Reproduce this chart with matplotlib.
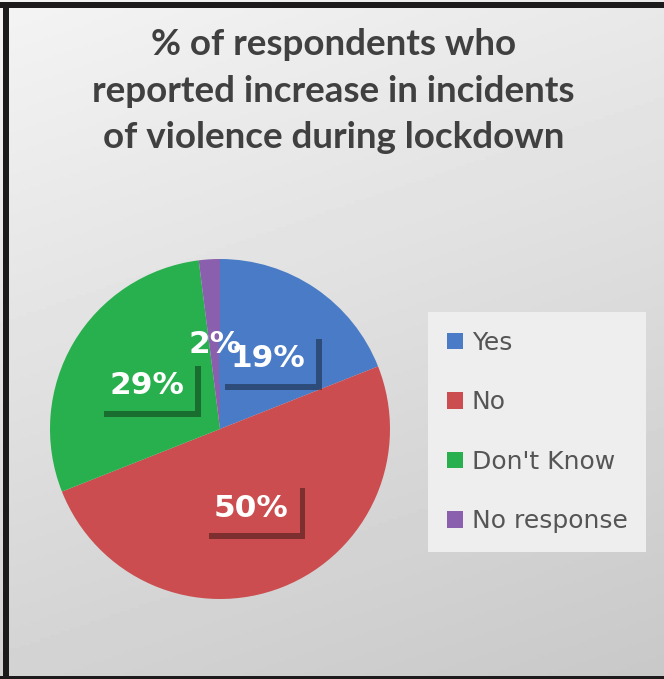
import matplotlib.pyplot as plt
import matplotlib.patheffects as pe
from matplotlib.patches import Rectangle
import numpy as np

# survey answers
categories = ["Yes", "No", "Don't Know", "No response"]
shares = [19, 50, 29, 2]
colors = ["#4a7bc6", "#cb4d4f", "#27b04d", "#8a60ae"]
title = "% of respondents who\nreported increase in incidents\nof violence during lockdown"

W, H = 664, 679
fig = plt.figure(figsize=(W / 100, H / 100), dpi=100)

# grey gradient backdrop
bg = fig.add_axes([0, 0, 1, 1])
yy, xx = np.mgrid[0:1:200j, 0:1:200j]
shade = 0.955 - 0.17 * (0.75 * yy + 0.25 * xx)
bg.imshow(shade, cmap="gray", vmin=0, vmax=1, aspect="auto",
          extent=[0, 1, 0, 1], origin="upper")
bg.set_xlim(0, 1)
bg.set_ylim(0, 1)
bg.axis("off")

# frame: top, left and bottom edges
bg.add_patch(Rectangle((0, 1 - 8 / H), 1, 6 / H, color="#1c1a1a", lw=0))
bg.add_patch(Rectangle((3 / W, 0), 6 / W, 1 - 2 / H, color="#1c1a1a", lw=0))
bg.add_patch(Rectangle((0, 0), 1, 3 / H, color="#1c1a1a", lw=0))

fig.text(0.502, 1 - 148 / H, title, ha="center", va="baseline", fontsize=26.5,
         fontweight="bold", color="#404040", family="Lato", linespacing=1.5)

cx, cy, r = 220, 429, 170
ax = fig.add_axes([(cx - r) / W, (H - cy - r) / H, 2 * r / W, 2 * r / H])
wedges, _, autotexts = ax.pie(shares, colors=colors, startangle=90,
                              counterclock=False, autopct="%d%%",
                              pctdistance=0.5,
                              wedgeprops=dict(linewidth=0))
ax.set_xlim(-1, 1)
ax.set_ylim(-1, 1)

for t, c, v in zip(autotexts, colors, shares):
    t.set_color("white")
    t.set_fontsize(22.5)
    t.set_fontweight("bold")
    t.set_family("DejaVu Sans")
    if v < 5:
        # the thin slice's label sits over its neighbours without a box
        t.set_zorder(7)
        continue
    t.set_zorder(6 if v < 25 else 4)
    t.set_bbox(dict(boxstyle="square,pad=0.35", facecolor=c, edgecolor="none"))
    t.get_bbox_patch().set_path_effects(
        [pe.SimplePatchShadow(offset=(4, -4), shadow_rgbFace="black", alpha=0.38),
         pe.Normal()])

leg = fig.legend(wedges, categories, loc="upper left",
                 bbox_to_anchor=(428 / W, 1 - 312 / H), frameon=True,
                 fancybox=False, framealpha=1, facecolor="#eeeeee",
                 edgecolor="none", prop=dict(family="DejaVu Sans", size=18),
                 labelcolor="#555555", handlelength=0.65, handleheight=0.65,
                 handletextpad=0.35, labelspacing=1.42, borderpad=0.75,
                 borderaxespad=0)

fig.savefig("out.png", dpi=100)
